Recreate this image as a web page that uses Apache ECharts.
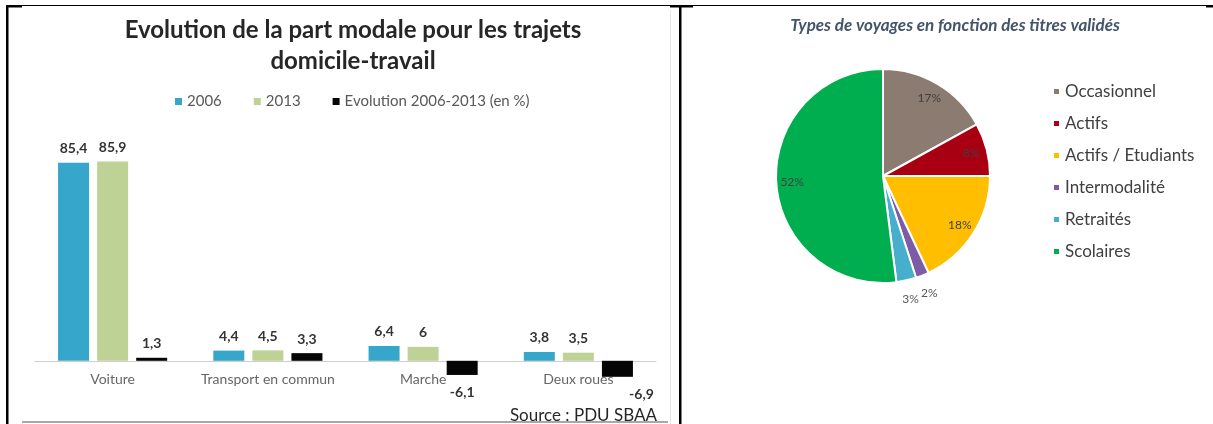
<!DOCTYPE html>
<html>
<head>
<meta charset="utf-8">
<script src="https://cdn.jsdelivr.net/npm/echarts@6/dist/echarts.min.js"></script>
<style>
  html, body { margin: 0; padding: 0; background: #fff; }
  #main { width: 1213px; height: 424px; }
</style>
</head>
<body>
<div id="main"></div>
<script>
var dom = document.getElementById('main');
var myChart = echarts.init(dom);

// bar chart data
var modes = ['Voiture', 'Transport en commun', 'Marche', 'Deux roues'];
var part2006 = [85.4, 4.4, 6.4, 3.8];
var part2013 = [85.9, 4.5, 6, 3.5];
var evolution = [1.3, 3.3, -6.1, -6.9];

// pie chart data
var titres = ['Occasionnel', 'Actifs', 'Actifs / Etudiants', 'Intermodalité', 'Retraités', 'Scolaires'];
var parts = [17, 8, 18, 2, 3, 52];
var titreColors = ['#8b7b70', '#a80012', '#ffbf00', '#7d5ba6', '#48aece', '#00ae4f'];

var font = 'Lato, "Open Sans", sans-serif';

function virgule(v) {
    return String(v).replace('.', ',');
}

function barData(vals) {
    return vals.map(function (v, i) {
        var item = {
            value: v,
            label: { position: v < 0 ? 'bottom' : 'top', distance: v < 0 ? 11 : 7 }
        };
        // last negative label is pushed right in the original (collides with the axis label)
        if (v < 0 && i === vals.length - 1) item.label.offset = [24, 0];
        return item;
    });
}

var barLabel = {
    show: true,
    fontFamily: font,
    fontSize: 14,
    fontWeight: 'bold',
    color: '#333',
    formatter: function (p) { return virgule(p.value); }
};

var pieData = titres.map(function (n, i) {
    return { name: n, value: parts[i], itemStyle: { color: titreColors[i] } };
});

function pctLabel(p) { return Math.round(p.percent) + '%'; }

var option = {
    animation: false,
    title: [
        {
            text: 'Evolution de la part modale pour les trajets\ndomicile-travail',
            left: 348,
            top: 10,
            textAlign: 'center',
            textStyle: { fontFamily: font, fontSize: 24, fontWeight: 'bold', color: '#262626', lineHeight: 31 }
        },
        {
            text: 'Types de voyages en fonction des titres validés',
            left: 950,
            top: 12,
            textAlign: 'center',
            textStyle: { fontFamily: font, fontSize: 17, fontWeight: 'bold', fontStyle: 'italic', color: '#44546a' }
        }
    ],
    legend: [
        {
            data: ['2006', '2013', 'Evolution 2006-2013 (en %)'],
            left: 170,
            top: 89,
            icon: 'rect',
            itemWidth: 7,
            itemHeight: 7,
            itemGap: 32,
            textStyle: { fontFamily: font, fontSize: 15, color: '#595959', lineHeight: 14 }
        },
        {
            data: titres,
            orient: 'vertical',
            left: 1047,
            top: 78,
            icon: 'rect',
            itemWidth: 7,
            itemHeight: 7,
            itemGap: 15,
            textStyle: { fontFamily: font, fontSize: 17, color: '#404040', lineHeight: 16 }
        }
    ],
    grid: { left: 35, width: 621, top: 152, height: 232 },
    xAxis: {
        type: 'category',
        data: modes,
        axisLine: { lineStyle: { color: '#cfcfcf', width: 1 } },
        axisTick: { show: false },
        // labels sit just under the zero line, above the bottom of the grid
        axisLabel: { interval: 0, margin: -12, fontFamily: font, fontSize: 14, color: '#666' }
    },
    yAxis: {
        type: 'value',
        min: -10,
        max: 90,
        show: false,
        splitLine: { show: false }
    },
    series: [
        {
            name: '2006', type: 'bar', barWidth: 31, barGap: '26%',
            itemStyle: { color: '#36a6ca' },
            label: barLabel,
            data: barData(part2006)
        },
        {
            name: '2013', type: 'bar', barWidth: 31, barGap: '26%',
            itemStyle: { color: '#bed296' },
            label: barLabel,
            data: barData(part2013)
        },
        {
            name: 'Evolution 2006-2013 (en %)', type: 'bar', barWidth: 31, barGap: '26%',
            itemStyle: { color: '#050505' },
            label: barLabel,
            data: barData(evolution)
        },
        {
            name: 'Titres', type: 'pie',
            center: [883, 176],
            radius: 107,
            startAngle: 90,
            clockwise: true,
            label: { show: false },
            labelLine: { show: false },
            itemStyle: { borderColor: '#fff', borderWidth: 2 },
            data: pieData
        },
        {
            // labels inside the big slices
            name: 'labels-in', type: 'pie', silent: true,
            center: [883, 176],
            radius: [72, 104],
            startAngle: 90,
            itemStyle: { color: 'rgba(0,0,0,0)' },
            labelLine: { show: false },
            data: titres.map(function (n, i) {
                return { name: n, value: parts[i], label: { show: parts[i] >= 5 } };
            }),
            label: { position: 'inside', fontFamily: font, fontSize: 12, color: '#404040', formatter: pctLabel }
        },
        {
            // labels outside the small slices
            name: 'labels-out', type: 'pie', silent: true,
            center: [883, 176],
            radius: [112, 134],
            startAngle: 90,
            itemStyle: { color: 'rgba(0,0,0,0)' },
            labelLine: { show: false },
            data: titres.map(function (n, i) {
                return { name: n, value: parts[i], label: { show: parts[i] < 5 } };
            }),
            label: { position: 'inside', fontFamily: font, fontSize: 12, color: '#595959', formatter: pctLabel }
        }
    ],
    graphic: [
        { type: 'text', z: 5, style: { text: 'Source : PDU SBAA', x: 657, y: 416, textAlign: 'right', textVerticalAlign: 'middle', font: '17px ' + font, fill: '#262626' } },
        { type: 'rect', z: 10, shape: { x: 22, y: 421, width: 646, height: 2 }, style: { fill: '#a8a8a8' } },
        { type: 'rect', z: 10, shape: { x: 670, y: 10, width: 1, height: 414 }, style: { fill: '#e6e6e6' } },
        // table borders
        { type: 'rect', z: 10, shape: { x: 7, y: 5, width: 1206, height: 1 }, style: { fill: '#000' } },
        { type: 'rect', z: 10, shape: { x: 6, y: 5, width: 16, height: 2.5 }, style: { fill: '#000' } },
        { type: 'rect', z: 10, shape: { x: 670, y: 5, width: 23, height: 2.5 }, style: { fill: '#000' } },
        { type: 'rect', z: 10, shape: { x: 1206, y: 5, width: 7, height: 2.5 }, style: { fill: '#000' } },
        { type: 'rect', z: 10, shape: { x: 6, y: 5, width: 2.5, height: 419 }, style: { fill: '#000' } },
        { type: 'rect', z: 10, shape: { x: 679, y: 5, width: 2.5, height: 419 }, style: { fill: '#000' } }
    ]
};

if (option && typeof option === 'object') {
    myChart.setOption(option);
}
</script>
</body>
</html>
